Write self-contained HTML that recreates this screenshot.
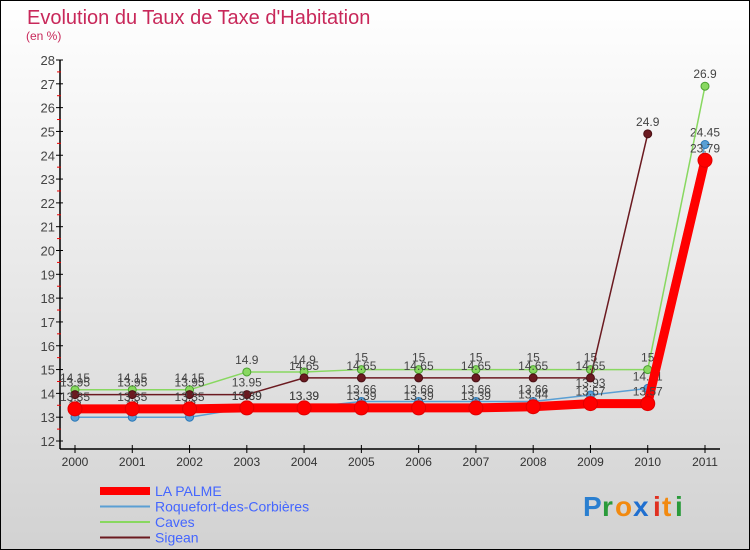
<!DOCTYPE html>
<html><head><meta charset="utf-8"><style>
body{margin:0}
#c{width:750px;height:550px;position:relative;overflow:hidden;font-family:"Liberation Sans",sans-serif}
</style></head><body>
<div id="c">
<svg id="s" width="750" height="550" xmlns="http://www.w3.org/2000/svg">
<defs><linearGradient id="bg" x1="0" y1="0" x2="0" y2="1"><stop offset="0" stop-color="#ffffff"/><stop offset="1" stop-color="#d2d2d2"/></linearGradient></defs>
<rect x="0.5" y="0.5" width="749" height="549" fill="url(#bg)" stroke="#000"/>
<text x="27" y="24" font-size="20" fill="#c8285a">Evolution du Taux de Taxe d'Habitation</text>
<text x="26" y="40" font-size="12" fill="#c8285a">(en %)</text>
<g id="axes"></g><g id="plot"></g><g id="legend"></g>
<g font-size="28" font-weight="bold">
<text x="583" y="516" fill="#2a7fd0">P</text><text x="602" y="516" fill="#2a9a3a">r</text><text x="615" y="516" fill="#f28a10">o</text><text x="633" y="516" fill="#1f6fd0">x</text><text x="653" y="516" fill="#e03020">i</text><text x="662" y="516" fill="#f28a10">t</text><text x="675" y="516" fill="#2a9a3a">i</text>
</g>
</svg>
</div>
<script>
const years=[2000,2001,2002,2003,2004,2005,2006,2007,2008,2009,2010,2011];
const laPalme=[13.35,13.35,13.35,13.39,13.39,13.39,13.39,13.39,13.44,13.57,13.57,23.79];
const roquefort=[13,13,13,13.39,13.39,13.66,13.66,13.66,13.66,13.93,14.21,24.45];
const caves=[14.15,14.15,14.15,14.9,14.9,15,15,15,15,15,15,26.9];
const sigean=[13.95,13.95,13.95,13.95,14.65,14.65,14.65,14.65,14.65,14.65,24.9,null];
const yTicks=[12,13,14,15,16,17,18,19,20,21,22,23,24,25,26,27,28];
const NS="http://www.w3.org/2000/svg";
const xS=i=>75+i*(630/11);
const yS=v=>441-(v-12)*(381/16);
function mk(t,a,p){const e=document.createElementNS(NS,t);for(const k in a)e.setAttribute(k,a[k]);p.appendChild(e);return e;}
const ax=document.getElementById('axes');
let yl=mk('line',{x1:60,y1:yS(28),x2:60,y2:yS(12)+8,stroke:'#000','stroke-width':1.5},ax);

let xl=mk('line',{x1:60,y1:449,x2:720,y2:449,stroke:'#000','stroke-width':1.5},ax);

yTicks.forEach(v=>{
 mk('line',{x1:56,y1:yS(v),x2:63,y2:yS(v),stroke:'#000'},ax);
 if(v<28)mk('line',{x1:57,y1:yS(v+0.5),x2:61,y2:yS(v+0.5),stroke:'#e00'},ax);
 const t=mk('text',{x:55,y:yS(v)+5,'font-size':13,fill:'#444','text-anchor':'end'},ax);t.textContent=v;
 
});
years.forEach((y,i)=>{
 mk('line',{x1:xS(i),y1:445,x2:xS(i),y2:453,stroke:'#000'},ax);
 const t=mk('text',{x:xS(i),y:466,'font-size':12,fill:'#333','text-anchor':'middle'},ax);t.textContent=y;
 
});
const pl=document.getElementById('plot');
function series(vals,color,w,r,name,dotStroke){
 const g=mk('g',{},pl);
 let d='';vals.forEach((v,i)=>{if(v==null)return;d+=(d?'L':'M')+xS(i)+' '+yS(v);});
 mk('path',{d:d,fill:'none',stroke:color,'stroke-width':w},g);
 vals.forEach((v,i)=>{if(v==null)return;
  const c=mk('circle',{cx:xS(i),cy:yS(v),r:r,fill:color,stroke:dotStroke,'stroke-width':1},g);
  
  const t=mk('text',{x:xS(i),y:yS(v)-8,'font-size':12,fill:'#444','text-anchor':'middle'},g);t.textContent=String(v).replace('.','.');
 });
}
series(roquefort,'#5a9fd4',1.5,4,'roquefort','#2b78b8');
series(caves,'#88d860',1.5,4,'caves','#4aa030');
series(sigean,'#6b1a20',1.5,4,'sigean','#4a1015');
series(laPalme,'#ff0000',9,7,'la-palme','#e00000');
const lg=document.getElementById('legend');
const leg=[['LA PALME','#ff0000',8,'#4466ff'],['Roquefort-des-Corbières','#5a9fd4',2,'#4466ff'],['Caves','#88d860',2,'#4466ff'],['Sigean','#6b1a20',2,'#4466ff']];
leg.forEach((l,i)=>{
 const y=491+i*15.5;
 const g=mk('g',{},lg);
 mk('line',{x1:100,y1:y,x2:150,y2:y,stroke:l[1],'stroke-width':l[2]},g);
 const t=mk('text',{x:155,y:y+5,'font-size':14,fill:l[3]},g);t.textContent=l[0];
});
</script>
</body></html>
